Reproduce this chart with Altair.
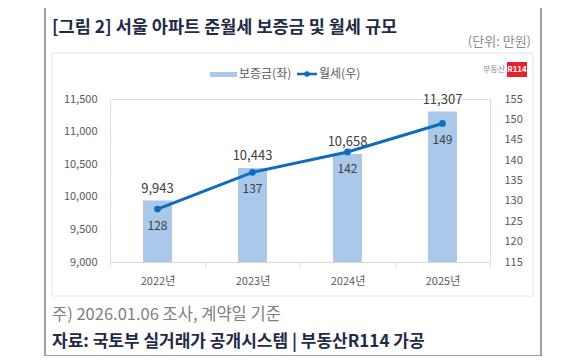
import altair as alt
import pandas as pd

years = ["2022년", "2023년", "2024년", "2025년"]
deposit = [9943, 10443, 10658, 11307]
rent = [128, 137, 142, 149]

df = pd.DataFrame({"year": years, "deposit": deposit, "rent": rent})

FONT = "Noto Sans CJK KR"
BAR = "#a9c8ea"
LINE = "#0e6cbf"
NAVY = "#1f2b47"

x_enc = alt.X("year:N", sort=years, title=None,
              scale=alt.Scale(paddingInner=0, paddingOuter=0),
              axis=alt.Axis(labelAngle=0, domainColor="#d9d9d9", tickColor="#d9d9d9",
                            tickSize=4, tickBand="extent", labelPadding=9,
                            labelFont=FONT, labelFontSize=11, labelColor="#595959"))

y_left = alt.Y("deposit:Q", title=None,
               scale=alt.Scale(domain=[9000, 11500], nice=False, zero=False),
               axis=alt.Axis(values=[9000, 9500, 10000, 10500, 11000, 11500], format=",.0f",
                             grid=False, domain=False, ticks=False, labelPadding=13,
                             labelFont=FONT, labelFontSize=11, labelColor="#595959"))

y_right = alt.Y("rent:Q", title=None,
                scale=alt.Scale(domain=[115, 155], nice=False, zero=False),
                axis=alt.Axis(orient="right", values=list(range(115, 156, 5)), format=".0f",
                              grid=False, domain=False, ticks=False, labelPadding=14,
                              labelFont=FONT, labelFontSize=11, labelColor="#595959"))

base = alt.Chart(df)

bars = base.mark_bar(size=29, color=BAR, clip=True).encode(x=x_enc, y=y_left)
bar_text = base.mark_text(baseline="bottom", dy=-5, font=FONT, fontSize=13, color="#404040").encode(
    x=x_enc, y=y_left, text=alt.Text("deposit:Q", format=",.0f"))
left = alt.layer(bars, bar_text)

line = base.mark_line(color=LINE, strokeWidth=3).encode(x=x_enc, y=y_right)
pts = base.mark_point(filled=True, size=45, color=LINE, opacity=1).encode(x=x_enc, y=y_right)
line_text = base.mark_text(baseline="middle", dy=17, font=FONT, fontSize=12, color="#404040").encode(
    x=x_enc, y=y_right, text="rent:Q")
right = alt.layer(line, pts, line_text)

one = pd.DataFrame({"t": [""]})


def label(text, x, y, **kw):
    d = pd.DataFrame({"t": [text]})
    return alt.Chart(d).mark_text(font=FONT, **kw).encode(
        x=alt.value(x), y=alt.value(y), text="t:N")


def box(x1, x2, y1, y2, **kw):
    return alt.Chart(one).mark_rect(**kw).encode(
        x=alt.value(x1), x2=alt.value(x2), y=alt.value(y1), y2=alt.value(y2))


outer = box(-65, 431, -92, 257, fillOpacity=0, stroke="#7f7f7f", strokeWidth=1.5)
inner = box(-58, 423, -46, 197, fillOpacity=0, stroke="#e3e3e3", strokeWidth=1)

title = label("[그림 2] 서울 아파트 준월세 보증금 및 월세 규모", -58, -71, align="left", baseline="middle",
              fontSize=17.5, fontWeight="bold", color=NAVY)
unit = label("(단위: 만원)", 421, -57, align="right", baseline="middle", fontSize=13, color="#8c8c8c")

leg_rect = box(100, 127, -27, -22, fill=BAR)
leg_t1 = label("보증금(좌)", 129, -25, align="left", baseline="middle", fontSize=12, color="#595959")
leg_line = alt.Chart(one).mark_rule(color=LINE, strokeWidth=2.5).encode(
    x=alt.value(187), x2=alt.value(207), y=alt.value(-25))
leg_dot = alt.Chart(one).mark_point(filled=True, size=30, color=LINE, opacity=1).encode(
    x=alt.value(197), y=alt.value(-25))
leg_t2 = label("월세(우)", 209, -25, align="left", baseline="middle", fontSize=12, color="#595959")

logo_t = label("부동산", 395, -29, align="right", baseline="middle", fontSize=8, color="#888888")
logo_r = box(397, 417, -37, -22, fill="#e8202a")
logo_r_t = label("R114", 407, -29, align="center", baseline="middle", fontSize=8, fontWeight="bold", color="white")

note = label("주) 2026.01.06 조사, 계약일 기준", -58, 216, align="left", baseline="middle",
             fontSize=16.5, color="#808080")
src = label("자료: 국토부 실거래가 공개시스템 | 부동산R114 가공", -58, 243, align="left", baseline="middle",
            fontSize=17, fontWeight="bold", color=NAVY)

chart = alt.layer(
    left, right, outer, inner, title, unit, leg_rect, leg_t1, leg_line, leg_dot, leg_t2,
    logo_t, logo_r, logo_r_t, note, src
).resolve_scale(y="independent").properties(
    width=380, height=163,
    autosize=alt.AutoSizeParams(type="none"),
    padding={"left": 102, "top": 91, "right": 82, "bottom": 94},
).configure_view(stroke=None).configure(background="white")

chart.save("out.html", embed_options={"renderer": "svg", "actions": False})
